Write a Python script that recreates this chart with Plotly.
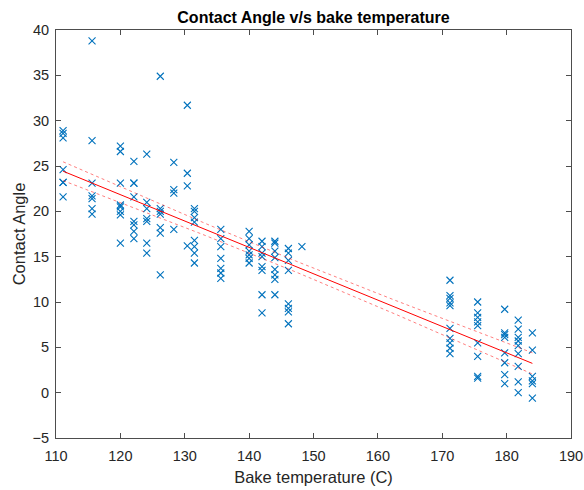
import numpy as np
import plotly.graph_objects as go

# Bake temperature groups (C) and the contact angles measured at each
temp_groups = [111.1, 115.6, 120.0, 122.1, 124.1, 126.2, 128.3, 130.4, 131.5,
               135.6, 140.0, 142.0, 144.0, 146.1, 148.2,
               171.2, 175.5, 179.7, 181.8, 184.0]
angle_groups = [
    [28.9, 28.6, 28.1, 24.6, 23.2, 23.2, 21.6],
    [38.8, 27.8, 23.1, 21.7, 21.4, 20.3, 19.7],
    [27.2, 26.6, 23.1, 20.7, 20.5, 20.0, 19.6, 16.5],
    [25.5, 23.1, 23.1, 21.6, 18.9, 18.5, 17.8, 17.0],
    [26.3, 21.0, 20.3, 19.2, 18.9, 16.5, 15.4],
    [34.9, 20.3, 20.0, 19.7, 18.2, 17.6, 13.0],
    [25.4, 22.4, 22.0, 18.0],
    [31.7, 24.2, 22.8, 16.2],
    [20.3, 20.0, 19.3, 18.8, 16.8, 16.1, 15.4, 14.3],
    [18.0, 17.0, 16.1, 14.8, 13.7, 13.2, 12.6],
    [17.8, 17.0, 16.3, 15.6, 15.2, 14.8, 14.3],
    [16.7, 16.1, 15.4, 15.0, 13.9, 13.5, 10.8, 8.8],
    [16.7, 16.5, 15.6, 14.9, 13.6, 13.0, 12.5, 10.8],
    [15.9, 15.4, 14.6, 13.5, 9.8, 9.3, 8.9, 7.6],
    [16.1],
    [12.4, 10.7, 10.4, 9.9, 9.6, 7.1, 6.0, 5.5, 4.9, 4.3],
    [10.0, 8.8, 8.3, 7.8, 7.4, 5.5, 4.0, 1.8, 1.6],
    [9.2, 6.6, 6.4, 6.1, 4.4, 3.3, 2.0, 1.0],
    [8.0, 7.0, 6.1, 5.7, 5.2, 4.3, 2.9, 1.2, 0.0],
    [6.6, 4.7, 1.8, 1.3, 1.0, -0.6],
]

x_ticks = [110, 120, 130, 140, 150, 160, 170, 180, 190]
y_ticks = [-5, 0, 5, 10, 15, 20, 25, 30, 35, 40]

temp = np.array([t for t, g in zip(temp_groups, angle_groups) for _ in g])
angle = np.array([a for g in angle_groups for a in g])

# Least-squares line with 95% confidence bounds on the fitted mean
slope, intercept = np.polyfit(temp, angle, 1)
n = len(temp)
resid = angle - (slope * temp + intercept)
s = np.sqrt(np.sum(resid ** 2) / (n - 2))
sxx = np.sum((temp - temp.mean()) ** 2)
t_crit = 1.977
xs = np.linspace(temp.min(), temp.max(), 100)
fit = slope * xs + intercept
half = t_crit * s * np.sqrt(1.0 / n + (xs - temp.mean()) ** 2 / sxx)

fig = go.Figure()
fig.add_trace(go.Scatter(
    x=temp, y=angle, mode="markers",
    marker=dict(symbol="x-thin", size=7, color="#0072BD",
                line=dict(width=1.1, color="#0072BD")),
))
fig.add_trace(go.Scatter(x=xs, y=fit, mode="lines",
                         line=dict(color="#FF0000", width=1)))
for band in (fit + half, fit - half):
    fig.add_trace(go.Scatter(x=xs, y=band, mode="lines",
                             line=dict(color="rgba(255,0,0,0.5)", width=1, dash="dot")))

font_family = "Liberation Sans"
axis_common = dict(
    showgrid=False, zeroline=False, showline=True, mirror="ticks",
    linecolor="#4d4d4d", linewidth=1, ticks="inside", ticklen=5,
    tickcolor="#4d4d4d", automargin=False,
    tickfont=dict(family=font_family, size=14.5, color="#262626"),
)
fig.update_layout(
    width=584, height=490,
    margin=dict(l=56, r=13, t=30, b=52),
    paper_bgcolor="white", plot_bgcolor="white",
    showlegend=False,
    title=dict(text="<b>Contact Angle v/s bake temperature</b>",
               x=0.5, xanchor="center", xref="paper", y=1 - 17 / 490, yanchor="middle",
               font=dict(family=font_family, size=16, color="black")),
    xaxis=dict(range=[110, 190], tickvals=x_ticks, ticklabelstandoff=5,
               title=dict(text="Bake temperature (C)", standoff=8,
                          font=dict(family=font_family, size=16.5, color="#262626")),
               **axis_common),
    yaxis=dict(range=[-5, 40], tickvals=y_ticks, ticklabelstandoff=3,
               title=dict(text="Contact Angle", standoff=2,
                          font=dict(family=font_family, size=16.5, color="#262626")),
               **axis_common),
)

fig.write_html("out.html")
